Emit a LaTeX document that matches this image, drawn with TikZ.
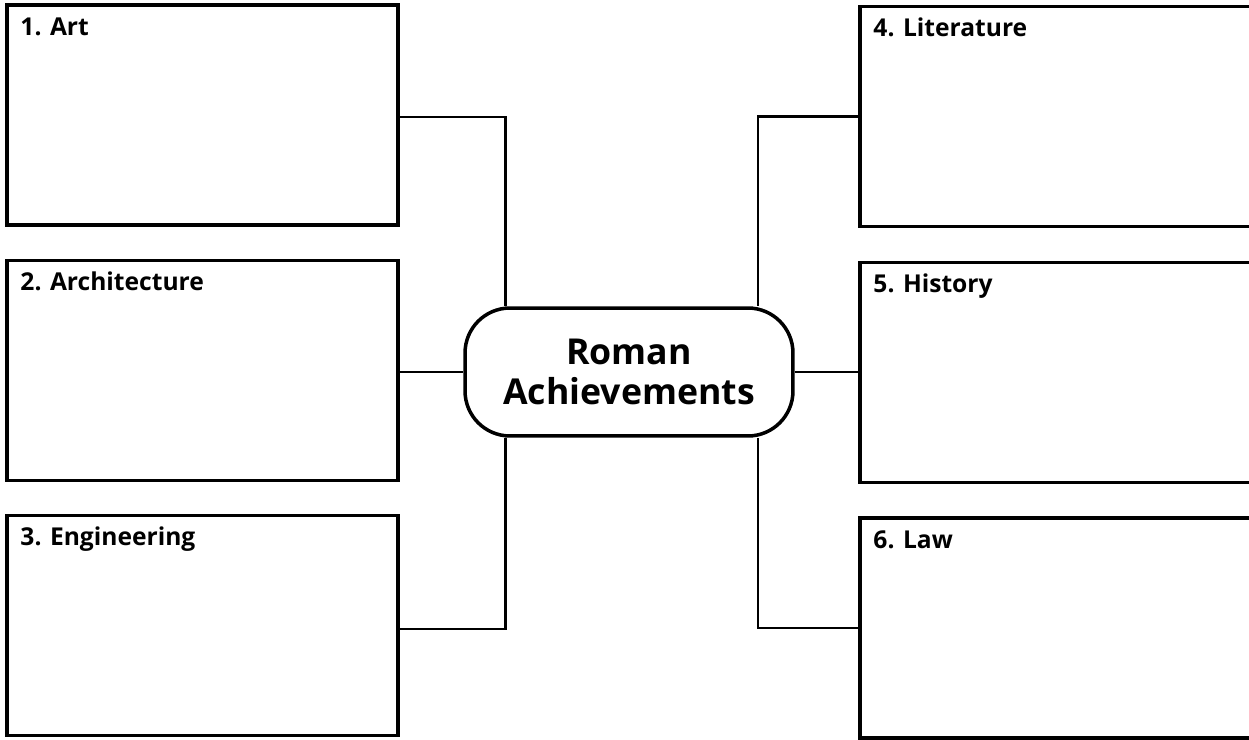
\documentclass[tikz,border=0pt]{standalone}
\usepackage{fontspec}
\setmainfont{Open Sans}
\usetikzlibrary{positioning}

\begin{document}
\begin{tikzpicture}[x=0.02cm,y=-0.02cm,
  topic/.style={draw=black,line width=2.2pt,minimum width=7.82cm,
    minimum height=4.4cm,inner sep=0pt},
  wide/.style={topic,minimum width=8cm},
  hub/.style={draw=black,line width=2pt,rounded corners=0.9cm,
    minimum width=6.56cm,minimum height=2.56cm,align=center,
    font=\fontsize{20.3}{22.8}\selectfont\bfseries},
  tag/.style={anchor=base west,inner sep=0pt,xshift=0.3cm,yshift=-0.64cm,
    font=\fontsize{14}{16}\selectfont\bfseries},
  link/.style={line width=1.4pt,draw=black}]
\useasboundingbox (0,0) rectangle (1249,740);
\node[hub] (core) at (629,372) {Roman\\Achievements};
\node[topic,label={[tag]north west:1. Art}] (art) at (202.5,115) {};
\node[topic,label={[tag]north west:2. Architecture}] (arch) at (202.5,370.5) {};
\node[topic,label={[tag]north west:3. Engineering}] (eng) at (202.5,625.5) {};
\node[wide,label={[tag]north west:4. Literature}] (lit) at (1060,116.5) {};
\node[wide,label={[tag]north west:5. History}] (hist) at (1060,372.5) {};
\node[wide,label={[tag]north west:6. Law}] (law) at (1060,628) {};
% left side
\draw[link] ([yshift=-0.04cm]art.east) -| ([xshift=0.84cm]core.north west);
\draw[link] (core.west -| arch.east) -- (core.west);
\draw[link] ([yshift=-0.07cm]eng.east) -| ([xshift=0.84cm]core.south west);
% right side
\draw[link] (lit.west) -| ([xshift=-0.74cm]core.north east);
\draw[link] (core.east) -- (core.east -| hist.west);
\draw[link] (law.west) -| ([xshift=-0.74cm]core.south east);
\end{tikzpicture}
\end{document}
